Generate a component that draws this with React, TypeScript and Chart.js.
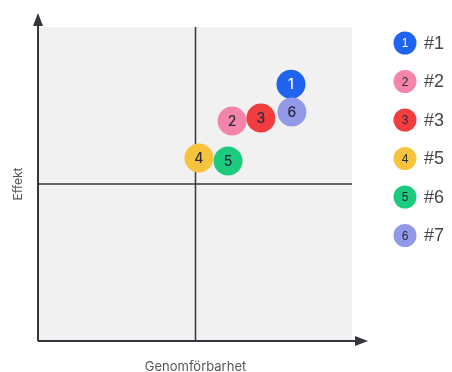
import React, { useEffect, useRef } from "react";
import { Chart, registerables } from "chart.js";

Chart.register(...registerables);

// Items plotted on the feasibility / effect matrix
const ids = ["1", "2", "3", "4", "5", "6"];
const legendNames = ["#1", "#2", "#3", "#5", "#6", "#7"];
const genomforbarhet = [8.05, 6.17, 7.09, 5.11, 6.04, 8.08];
const effekt = [8.18, 7.01, 7.1, 5.83, 5.73, 7.29];
const colors = ["#1f63ee", "#f285a9", "#f23d3f", "#f8c33c", "#1ccb7d", "#9299e8"];
const textColors = ["#ffffff", "#2a2a3a", "#2a2a3a", "#2a2a3a", "#2a2a3a", "#2a2a3a"];

const axisMin = 0;
const axisMax = 10;
const axisMid = 5;

const xTitle = "Genomförbarhet";
const yTitle = "Effekt";

const INK = "#35353d";

const matrixPlugin = {
  id: "matrix",
  beforeDatasetsDraw(chart: any) {
    const { ctx, chartArea, scales } = chart;
    const { left, right, top, bottom } = chartArea;
    ctx.save();
    // quadrant background
    ctx.fillStyle = "#f1f1f1";
    ctx.fillRect(left, top, right - left, bottom - top);

    // midlines
    const mx = scales.x.getPixelForValue(axisMid);
    const my = scales.y.getPixelForValue(axisMid);
    ctx.strokeStyle = INK;
    ctx.lineWidth = 1.5;
    ctx.beginPath();
    ctx.moveTo(mx, top);
    ctx.lineTo(mx, bottom);
    ctx.moveTo(left, my);
    ctx.lineTo(right, my);
    ctx.stroke();

    // axes with arrows
    const ax = left - 1;
    const ay = bottom;
    ctx.lineWidth = 2;
    ctx.beginPath();
    ctx.moveTo(ax, ay);
    ctx.lineTo(ax, top - 8);
    ctx.moveTo(ax, ay);
    ctx.lineTo(right + 8, ay);
    ctx.stroke();
    ctx.fillStyle = INK;
    ctx.beginPath();
    ctx.moveTo(ax, top - 14);
    ctx.lineTo(ax - 5, top - 1);
    ctx.lineTo(ax + 5, top - 1);
    ctx.closePath();
    ctx.fill();
    ctx.beginPath();
    ctx.moveTo(right + 16, ay);
    ctx.lineTo(right + 3, ay - 5);
    ctx.lineTo(right + 3, ay + 5);
    ctx.closePath();
    ctx.fill();

    // axis titles
    ctx.fillStyle = "#55555c";
    ctx.font = "13px Inter, 'Noto Sans', sans-serif";
    ctx.textAlign = "center";
    ctx.textBaseline = "middle";
    ctx.fillText(xTitle, mx, bottom + 26);
    ctx.font = "12px Inter, 'Noto Sans', sans-serif";
    ctx.save();
    ctx.translate(left - 21, (top + bottom) / 2);
    ctx.rotate(-Math.PI / 2);
    ctx.fillText(yTitle, 0, 0);
    ctx.restore();
    ctx.restore();
  },
  afterDatasetsDraw(chart: any) {
    const { ctx } = chart;
    const meta = chart.getDatasetMeta(0);
    ctx.save();
    ctx.font = "500 14px Inter, 'Liberation Sans', Arial, sans-serif";
    ctx.textAlign = "center";
    ctx.textBaseline = "middle";
    meta.data.forEach((pt: any, i: number) => {
      ctx.fillStyle = textColors[i];
      ctx.fillText(ids[i], pt.x, pt.y + 1);
    });

    // legend
    const lx = 405;
    const ly0 = 43;
    const step = 38.5;
    legendNames.forEach((name, i) => {
      const cy = ly0 + i * step;
      ctx.beginPath();
      ctx.arc(lx, cy, 11.5, 0, Math.PI * 2);
      ctx.fillStyle = colors[i];
      ctx.fill();
      ctx.fillStyle = textColors[i];
      ctx.font = "12px 'Liberation Sans', Arial, sans-serif";
      ctx.textAlign = "center";
      ctx.fillText(ids[i], lx, cy + 1);
      ctx.fillStyle = "#45454a";
      ctx.font = "18px 'Liberation Sans', Arial, sans-serif";
      ctx.textAlign = "left";
      ctx.fillText(name, lx + 19, cy + 1);
    });
    ctx.restore();
  },
};

export default function App() {
  const ref = useRef<HTMLCanvasElement | null>(null);

  useEffect(() => {
    if (!ref.current) return;
    const chart = new Chart(ref.current, {
      type: "scatter",
      data: {
        datasets: [
          {
            data: genomforbarhet.map((x, i) => ({ x, y: effekt[i] })),
            backgroundColor: colors,
            borderWidth: 0,
            pointRadius: 14.5,
            pointHoverRadius: 14.5,
          },
        ],
      },
      options: {
        animation: false,
        responsive: false,
        events: [],
        layout: { padding: { left: 39, right: 100, top: 27, bottom: 31 } },
        plugins: { legend: { display: false }, tooltip: { enabled: false } },
        scales: {
          x: { type: "linear", min: axisMin, max: axisMax, display: false },
          y: { type: "linear", min: axisMin, max: axisMax, display: false },
        },
      },
      plugins: [matrixPlugin],
    });
    return () => chart.destroy();
  }, []);

  return (
    <div style={{ position: "fixed", left: 0, top: 0, width: 452, height: 372, background: "#fff" }}>
      <canvas ref={ref} width={452} height={372} style={{ width: 452, height: 372 }} />
    </div>
  );
}
